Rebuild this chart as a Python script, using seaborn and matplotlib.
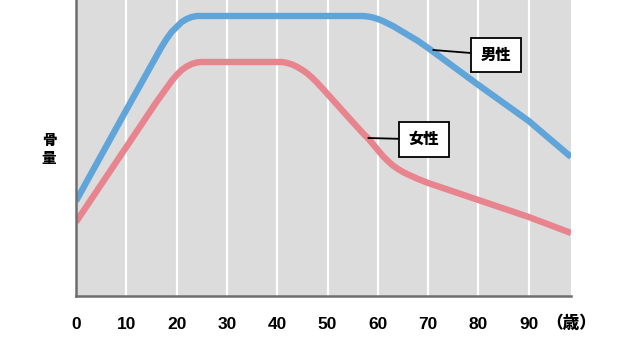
import matplotlib
matplotlib.use("Agg")
import matplotlib.pyplot as plt
import seaborn as sns
import pandas as pd

# ---- data (y in arbitrary "bone mass" units) ----
male_age = [0, 10, 14, 16, 17, 18, 19, 20, 21, 22, 23, 24,
            57, 58, 59, 60, 61, 62, 63, 64, 65, 66, 68, 70, 80, 90, 98.4]
male_val = [95, 186, 222, 240, 249, 257, 264, 269, 274, 277, 279, 280,
            280, 279.5, 278.5, 277, 275, 272.5, 270, 267, 264, 261, 255, 248, 211, 175, 139]
female_age = [0, 10, 16, 17, 18, 19, 20, 21, 22, 23, 24, 25,
              41, 42, 43, 44, 45, 46, 47, 48, 50, 55, 57, 58, 59, 60, 61, 62, 63, 64, 65, 66, 68, 70,
              80, 90, 98.4]
female_val = [74, 149, 194, 201, 208, 215, 221, 226, 229.5, 232, 233.5, 234,
              234, 233, 231.5, 229, 226, 222.5, 218, 213, 202, 174, 163, 158, 152, 146, 140, 135,
              130.5, 127, 124, 121.5, 117, 113,
              96, 79, 63]
series_names = ["男性", "女性"]
x_ticks = [0, 10, 20, 30, 40, 50, 60, 70, 80, 90]
x_unit = "（歳）"
y_label = "骨\n量"

df = pd.concat([
    pd.DataFrame({"age": male_age, "val": male_val, "sex": series_names[0]}),
    pd.DataFrame({"age": female_age, "val": female_val, "sex": series_names[1]}),
])

sns.set_style("white", {"axes.facecolor": "#DCDCDC", "text.color": "black",
                        "xtick.color": "black"})
plt.rcParams["font.family"] = ["Liberation Sans", "Noto Sans CJK JP", "DejaVu Sans"]

fig = plt.figure(figsize=(6.4, 3.46), dpi=100)
ax = fig.add_axes([76 / 640, 50 / 346, (571 - 76) / 640, 296 / 346])

palette = {series_names[0]: "#5FA5DA", series_names[1]: "#E8848D"}
sns.lineplot(data=df, x="age", y="val", hue="sex", palette=palette, ax=ax,
             linewidth=4.6, legend=False, sort=False)
for l in ax.lines:
    l.set_solid_joinstyle("round")
    l.set_solid_capstyle("butt")

for t in x_ticks[1:]:
    ax.axvline(t, color="white", lw=1.6, zorder=0.5)

ax.set_xlim(0, 98.4)
ax.set_ylim(0, 296)
ax.set_xticks(x_ticks)
ax.set_xticklabels([str(t) for t in x_ticks], fontsize=12.5, fontweight="heavy", color="black")
ax.tick_params(axis="x", length=0, pad=15, labelcolor="black")
ax.set_yticks([])
ax.set_xlabel("")
ax.set_ylabel("")
for s in ["top", "right"]:
    ax.spines[s].set_visible(False)
for s in ["left", "bottom"]:
    ax.spines[s].set_color("#6E6E6E")
    ax.spines[s].set_linewidth(1.8)

ax.text(98.4, -27, x_unit, ha="center", va="center", fontsize=12, fontweight="heavy",
        color="black", family=["Noto Sans CJK JP", "DejaVu Sans"], clip_on=False)

fig.text(49 / 640, 1 - 150 / 346, y_label, ha="center", va="center", fontsize=10.5,
         fontweight="heavy", color="black", family=["Noto Sans CJK JP", "DejaVu Sans"],
         linespacing=1.25)

box = dict(boxstyle="square,pad=0.65", fc="white", ec="black", lw=1.3)
arrow = dict(arrowstyle="-", color="black", lw=1.3, shrinkA=0, shrinkB=0)
ax.annotate(series_names[0], xy=(71.0, 246), xytext=(83.5, 241), ha="center", va="center",
            fontsize=11, fontweight="heavy", color="black",
            family=["Noto Sans CJK JP", "DejaVu Sans"], bbox=box, arrowprops=arrow)
ax.annotate(series_names[1], xy=(58.1, 158), xytext=(69.2, 156.5), ha="center", va="center",
            fontsize=11, fontweight="heavy", color="black",
            family=["Noto Sans CJK JP", "DejaVu Sans"], bbox=box, arrowprops=arrow)

fig.savefig("out.png", dpi=100)
